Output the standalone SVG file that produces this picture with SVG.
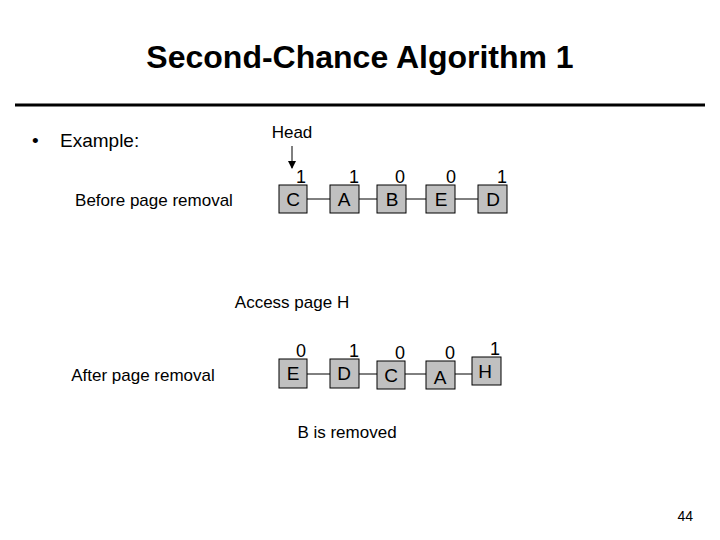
<svg xmlns="http://www.w3.org/2000/svg" width="720" height="540" viewBox="0 0 720 540">
<style>
text{font-family:"Liberation Sans",Arial,sans-serif;fill:#000}
.b{fill:#c0c0c0;stroke:#000;stroke-width:1}
.l{font-size:19px;text-anchor:middle}
.d{font-size:18px;text-anchor:middle}
.n{font-size:17px;text-anchor:middle}
.c{stroke:#000;stroke-width:1}
</style>
<defs><marker id="ah" markerWidth="8" markerHeight="8" refX="7" refY="4" orient="auto" markerUnits="userSpaceOnUse"><path d="M0,0L8,4L0,8z" fill="#000"/></marker></defs>
<rect width="720" height="540" fill="#fff"/>
<text x="360" y="68" font-size="32" font-weight="bold" text-anchor="middle">Second-Chance Algorithm 1</text>
<line x1="15" y1="105" x2="705" y2="105" stroke="#000" stroke-width="3"/>
<text x="32" y="147" font-size="19">•</text>
<text x="60" y="147" font-size="19">Example:</text>
<text x="292" y="138" class="n">Head</text>
<text x="154" y="206" class="n">Before page removal</text>
<text x="292" y="308" class="n">Access page H</text>
<text x="143" y="381" class="n">After page removal</text>
<text x="347" y="438" class="n">B is removed</text>
<text x="693" y="521" font-size="14" text-anchor="end">44</text>
<g id="connectors">
<line class="c" x1="292" y1="146" x2="292" y2="168" marker-end="url(#ah)"/>
<line class="c" x1="307" y1="199" x2="330" y2="199"/>
<line class="c" x1="359" y1="199" x2="377" y2="199"/>
<line class="c" x1="406" y1="199" x2="426" y2="199"/>
<line class="c" x1="455" y1="199" x2="478" y2="199"/>
<line class="c" x1="307" y1="374" x2="330" y2="374"/>
<line class="c" x1="359" y1="374" x2="377" y2="374"/>
<line class="c" x1="405" y1="374" x2="426" y2="374"/>
<line class="c" x1="455" y1="374" x2="472" y2="374"/>
</g>
<g id="top-C"><rect class="b" x="279" y="185" width="28" height="28"/><text class="l" x="293" y="206">C</text><text class="d" x="301" y="183">1</text></g>
<g id="top-A"><rect class="b" x="330" y="185" width="29" height="28"/><text class="l" x="344" y="206">A</text><text class="d" x="354" y="183">1</text></g>
<g id="top-B"><rect class="b" x="377" y="185" width="29" height="28"/><text class="l" x="392" y="206">B</text><text class="d" x="400" y="183">0</text></g>
<g id="top-E"><rect class="b" x="426" y="185" width="29" height="28"/><text class="l" x="441" y="206">E</text><text class="d" x="451" y="183">0</text></g>
<g id="top-D"><rect class="b" x="478" y="185" width="29" height="28"/><text class="l" x="493" y="206">D</text><text class="d" x="502" y="183">1</text></g>
<g id="bot-E"><rect class="b" x="279" y="359" width="28" height="29"/><text class="l" x="293" y="380">E</text><text class="d" x="301" y="357">0</text></g>
<g id="bot-D"><rect class="b" x="330" y="359" width="29" height="29"/><text class="l" x="344" y="380">D</text><text class="d" x="354" y="357">1</text></g>
<g id="bot-C"><rect class="b" x="377" y="361" width="28" height="28"/><text class="l" x="391" y="382">C</text><text class="d" x="400" y="359">0</text></g>
<g id="bot-A"><rect class="b" x="426" y="361" width="29" height="28"/><text class="l" x="440" y="384">A</text><text class="d" x="450" y="359">0</text></g>
<g id="bot-H"><rect class="b" x="472" y="357" width="29" height="28"/><text class="l" x="485" y="378">H</text><text class="d" x="495" y="355">1</text></g>
</svg>
